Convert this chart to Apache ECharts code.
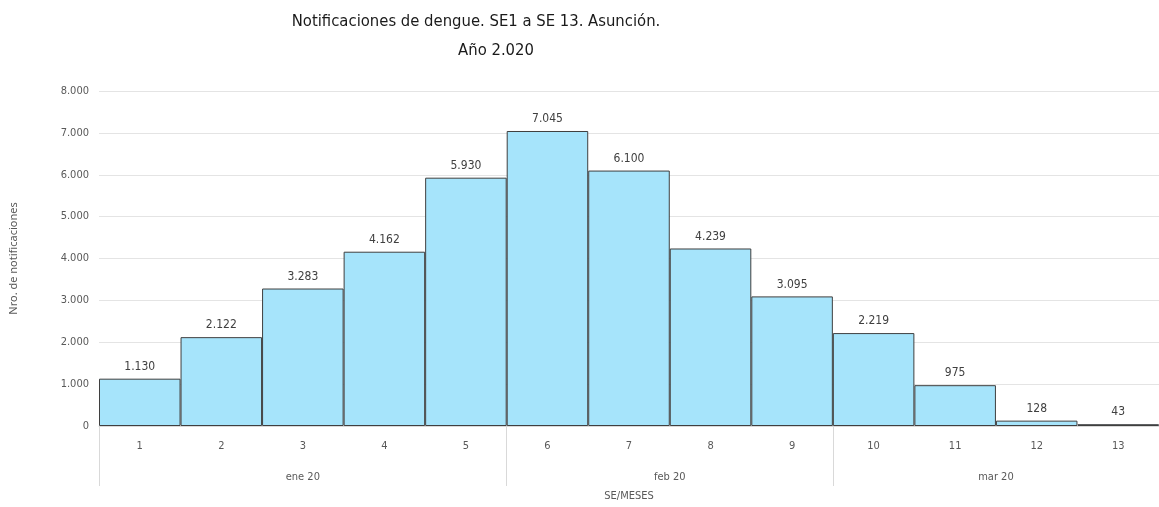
<!DOCTYPE html>
<html><head><meta charset="utf-8">
<script src="https://cdn.jsdelivr.net/npm/echarts@6/dist/echarts.min.js"></script>
<style>html,body{margin:0;padding:0;background:#fff}#c{width:1159px;height:507px}</style>
</head><body><div id="c"></div>
<script>
const weeks = ['1','2','3','4','5','6','7','8','9','10','11','12','13'];
const values = [1130, 2122, 3283, 4162, 5930, 7045, 6100, 4239, 3095, 2219, 975, 128, 43];
const months = ['ene 20', 'feb 20', 'mar 20'];
const monthCenters = [2.5, 7, 11];
const monthBounds = [0, 5, 9, 13];

const fmt = v => String(v).replace(/\B(?=(\d{3})+(?!\d))/g, '.');
const font = '"Noto Sans", "Open Sans", sans-serif';
const tfont = '"DejaVu Sans Condensed", "Noto Sans", sans-serif';
const chart = echarts.init(document.getElementById('c'));
chart.setOption({
  animation: false,
  textStyle: { fontFamily: font },
  title: [
    { text: 'Notificaciones de dengue. SE1 a SE 13. Asunción.', left: 471, textAlign: 'center', top: 8,
      textStyle: { fontSize: 16.5, fontWeight: 'normal', color: '#1a1a1a', fontFamily: tfont } },
    { text: 'Año 2.020', left: 491, textAlign: 'center', top: 37,
      textStyle: { fontSize: 16.5, fontWeight: 'normal', color: '#1a1a1a', fontFamily: tfont } }
  ],
  grid: { left: 98, right: 0, top: 91, bottom: 80, containLabel: false },
  xAxis: [
    { type: 'category', data: weeks, position: 'bottom',
      axisLine: { show: true, lineStyle: { color: '#d9d9d9' } },
      axisTick: { show: false },
      axisLabel: { color: '#595959', fontSize: 11, margin: 15, fontFamily: tfont } },
    { type: 'value', min: 0, max: 13, position: 'bottom',
      name: 'SE/MESES', nameLocation: 'middle', nameGap: 65,
      nameTextStyle: { color: '#595959', fontSize: 11, fontFamily: tfont },
      axisLine: { show: false },
      splitLine: { show: false },
      axisTick: { show: true, customValues: monthBounds, length: 60, lineStyle: { color: '#d9d9d9' } },
      axisLabel: { show: true, customValues: monthCenters, margin: 46, color: '#595959', fontSize: 11, fontFamily: tfont,
        formatter: v => { const i = monthCenters.indexOf(v); return i >= 0 ? months[i] : ''; } } }
  ],
  yAxis: {
    type: 'value', min: 0, max: 8000, interval: 1000,
    name: 'Nro. de notificaciones', nameLocation: 'middle', nameGap: 80, nameRotate: 90,
    nameTextStyle: { color: '#595959', fontSize: 11 },
    axisLine: { show: false }, axisTick: { show: false },
    axisLabel: { color: '#595959', fontSize: 11, margin: 10, formatter: v => fmt(v), fontFamily: tfont },
    splitLine: { lineStyle: { color: '#e4e4e4' } }
  },
  series: [{
    type: 'bar', data: values, xAxisIndex: 0, barCategoryGap: '0%',
    itemStyle: { color: '#a6e4fb', borderColor: '#3f3f3f', borderWidth: 1 },
    label: { show: true, position: 'top', color: '#404040', fontSize: 12, distance: 6, fontFamily: tfont, formatter: p => fmt(p.value) }
  }]
});
</script></body></html>
